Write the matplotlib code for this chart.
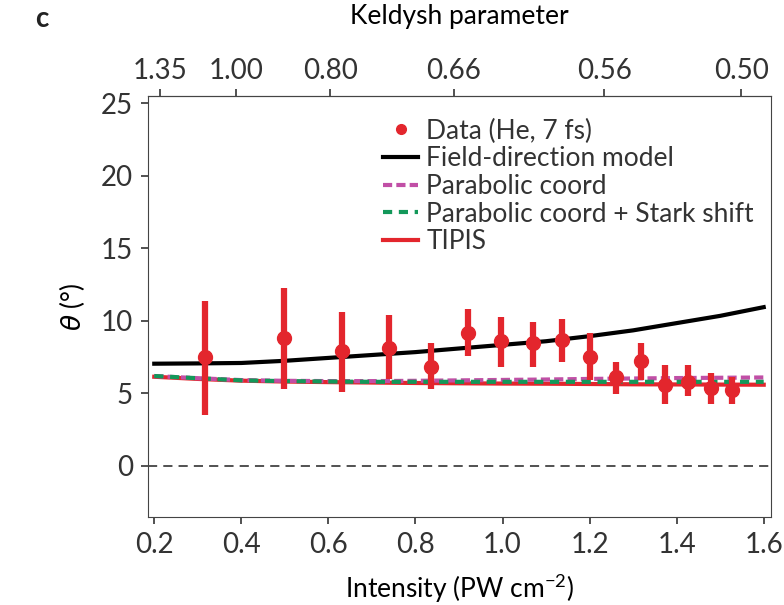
import numpy as np
import matplotlib.pyplot as plt

# measured data (He, 7 fs)
inten = [0.316, 0.499, 0.632, 0.739, 0.835, 0.920, 0.996, 1.070, 1.136, 1.201,
         1.260, 1.318, 1.374, 1.426, 1.479, 1.528]
theta = [7.5, 8.8, 7.9, 8.15, 6.8, 9.2, 8.6, 8.45, 8.7, 7.5,
         6.15, 7.25, 5.6, 5.8, 5.35, 5.25]
err_hi = [11.4, 12.25, 10.6, 10.4, 8.5, 10.8, 10.25, 9.95, 10.1, 9.15,
          7.2, 8.45, 6.95, 6.95, 6.4, 6.15]
err_lo = [3.5, 5.3, 5.1, 6.0, 5.3, 7.6, 6.8, 6.8, 7.2, 5.9,
          4.95, 5.9, 4.3, 4.8, 4.3, 4.3]

# model curves
model_I = [0.2, 0.3, 0.4, 0.5, 0.6, 0.7, 0.8, 0.9, 1.0, 1.1, 1.2, 1.3, 1.4, 1.5, 1.6]
field_dir = [7.05, 7.07, 7.1, 7.25, 7.45, 7.65, 7.85, 8.1, 8.35, 8.6, 8.95, 9.35, 9.85, 10.35, 10.95]
parabolic = [6.2, 6.05, 5.92, 5.87, 5.85, 5.85, 5.87, 5.9, 5.93, 5.96, 6.0, 6.03, 6.06, 6.08, 6.1]
parab_stark = [6.2, 6.05, 5.9, 5.85, 5.82, 5.8, 5.8, 5.8, 5.8, 5.8, 5.8, 5.8, 5.8, 5.8, 5.8]
tipis = [6.15, 6.0, 5.88, 5.82, 5.78, 5.75, 5.72, 5.7, 5.68, 5.67, 5.65, 5.63, 5.62, 5.61, 5.6]

keldysh_ticks = [1.35, 1.00, 0.80, 0.66, 0.56, 0.50]
keldysh_c = 0.387  # gamma^2 * I

plt.rcParams['font.family'] = ['Lato', 'DejaVu Sans']
plt.rcParams['font.size'] = 19
plt.rcParams['text.color'] = '#333333'
plt.rcParams['xtick.color'] = '#333333'
plt.rcParams['ytick.color'] = '#333333'
plt.rcParams['axes.edgecolor'] = '#444444'

red = '#e3262d'
fig = plt.figure(figsize=(7.84, 6.05), dpi=100)
ax = fig.add_axes([0.189, 0.146, 0.794, 0.695])

ax.axhline(0, color='#222222', lw=1.1, ls=(0, (6, 4)))
l1, = ax.plot(model_I, field_dir, color='black', lw=3, label='Field-direction model')
l4, = ax.plot(model_I, tipis, color=red, lw=3, label='TIPIS')
l2, = ax.plot(model_I, parabolic, color='#c14fa6', lw=3, ls=(0, (2.2, 1)), label='Parabolic coord')
l3, = ax.plot(model_I, parab_stark, color='#13985a', lw=3, ls=(0, (2.2, 1.6)), label='Parabolic coord + Stark shift')
yerr = [np.array(theta) - np.array(err_lo), np.array(err_hi) - np.array(theta)]
ax.errorbar(inten, theta, yerr=yerr, fmt='none', ecolor=red, elinewidth=4.5, capsize=0, zorder=5)
d, = ax.plot(inten, theta, 'o', color=red, ms=10, zorder=6, label='Data (He, 7 fs)')

ax.set_xlim(0.186, 1.616)
ax.set_ylim(-3.5, 25.5)
ax.set_xticks([0.2, 0.4, 0.6, 0.8, 1.0, 1.2, 1.4, 1.6])
ax.set_xticklabels(['0.2', '0.4', '0.6', '0.8', '1.0', '1.2', '1.4', '1.6'])
ax.set_yticks([0, 5, 10, 15, 20, 25])
ax.tick_params(direction='out', length=5, width=1.2, labelsize=20, pad=6)
ax.set_xlabel('Intensity (PW cm$^{\\mathregular{-2}}$)', fontsize=19, labelpad=10)
ax.set_ylabel('$\\theta$ (°)', fontsize=19, labelpad=10)

sec = ax.secondary_xaxis('top', functions=(lambda I: np.sqrt(keldysh_c / np.clip(I, 1e-3, None)),
                                           lambda g: keldysh_c / np.clip(g, 1e-3, None) ** 2))
sec.set_xticks(keldysh_ticks)
sec.set_xticklabels(['%.2f' % k for k in keldysh_ticks])
sec.tick_params(direction='out', length=5, width=1.2, labelsize=20, pad=4)
sec.set_xlabel('Keldysh parameter', fontsize=19, labelpad=24)

ax.legend(handles=[d, l1, l2, l3, l4], loc='upper left', bbox_to_anchor=(0.36, 0.972),
          frameon=False, fontsize=19, handlelength=1.35, handletextpad=0.3,
          labelspacing=0.1, borderaxespad=0, markerscale=0.7)

fig.text(0.045, 0.955, 'c', fontsize=20, fontweight='bold', color='#222222')

fig.savefig('out.png', dpi=100)
